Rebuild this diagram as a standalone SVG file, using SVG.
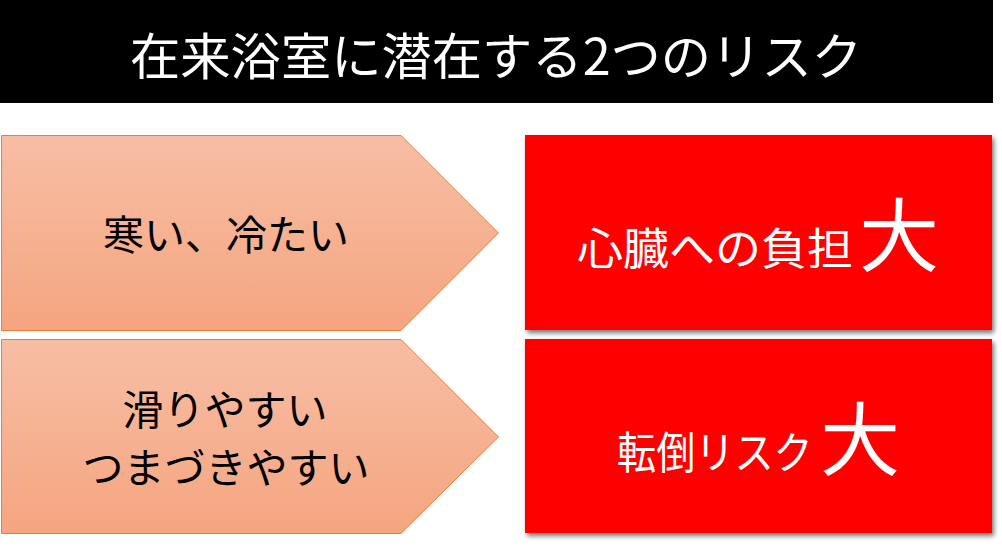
<svg xmlns="http://www.w3.org/2000/svg" width="1002" height="548" viewBox="0 0 1002 548">
<defs>
<linearGradient id="g" x1="0" y1="0" x2="0" y2="1">
<stop offset="0" stop-color="#F7BEA5"/>
<stop offset="1" stop-color="#F5A57F"/>
</linearGradient>
<filter id="sh" x="-5%" y="-5%" width="115%" height="120%">
<feGaussianBlur in="SourceAlpha" stdDeviation="2.5"/>
<feOffset dx="2" dy="3" result="b"/>
<feComponentTransfer><feFuncA type="linear" slope="0.55"/></feComponentTransfer>
<feMerge><feMergeNode/><feMergeNode in="SourceGraphic"/></feMerge>
</filter>
</defs>
<style>
.jp{font-family:"Noto Sans CJK JP","Noto Sans CJK SC",sans-serif;}
.arrow{fill:url(#g);stroke:#ED7D31;stroke-width:1;}
.box{fill:#FF0000;filter:url(#sh);}
.dark{fill:#000;font-size:41px;text-anchor:middle;}
.lt{fill:#fff;text-anchor:start;}
</style>
<rect width="1002" height="548" fill="#fff"/>
<g id="title">
<rect x="0" y="0" width="993" height="103" fill="#000"/>
<text class="jp" x="496" y="75" fill="#fff" font-size="50" text-anchor="middle" textLength="732" lengthAdjust="spacingAndGlyphs">在来浴室に潜在する2つのリスク</text>
</g>
<g id="cause1">
<path class="arrow" d="M1.5,135.5 H401 L498.5,233 L401,330.5 H1.5 Z"/>
<text class="jp dark" x="226" y="250">寒い、冷たい</text>
</g>
<g id="cause2">
<path class="arrow" d="M1.5,339.5 H401 L498.5,437 L401,533.5 H1.5 Z"/>
<text class="jp dark" x="225" y="425">滑りやすい</text>
<text class="jp dark" x="226" y="483">つまづきやすい</text>
</g>
<g id="risk1">
<rect class="box" x="525" y="135" width="467" height="195"/>
<text class="jp lt" x="577" y="265" font-size="44" textLength="276" lengthAdjust="spacingAndGlyphs">心臓への負担</text>
<text class="jp lt" x="859" y="265" font-size="80">大</text>
</g>
<g id="risk2">
<rect class="box" x="525" y="339" width="467" height="194"/>
<text class="jp lt" transform="translate(617,469) scale(0.89,1)" x="0" y="0" font-size="44">転倒リスク</text>
<text class="jp lt" x="820" y="469" font-size="80">大</text>
</g>
<g id="connectors"></g>
</svg>
